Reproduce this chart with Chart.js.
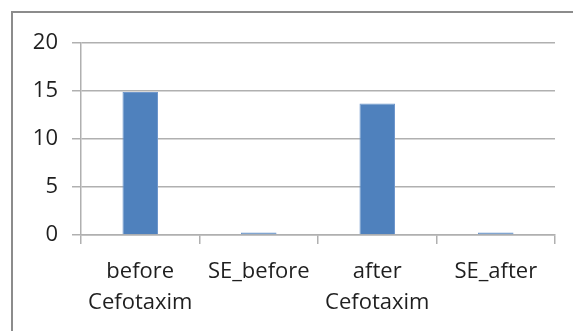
<!DOCTYPE html>
<html>
<head>
<meta charset="utf-8">
<script src="https://cdn.jsdelivr.net/npm/chart.js@4/dist/chart.umd.min.js"></script>
<style>
  html, body { margin: 0; padding: 0; background: #fff; overflow: hidden; }
  #wrap { position: relative; width: 573px; height: 331px; }
  #frame {
    position: absolute; left: 11px; top: 11px; width: 700px; height: 400px;
    border: 2px solid #8c8c8c; box-sizing: border-box;
  }
  canvas { position: absolute; left: 0; top: 0; }
</style>
</head>
<body>
<div id="wrap">
  <div id="frame"></div>
  <canvas id="chart" width="573" height="331"></canvas>
</div>
<script>
// values
const categories = [['before', 'Cefotaxim'], 'SE_before', ['after', 'Cefotaxim'], 'SE_after'];
const values = [14.9, 0.25, 13.7, 0.25];
const yTicks = [0, 5, 10, 15, 20];

const gridColour = '#b0b0b0';
const textFont = { family: 'Open Sans', size: 22, lineHeight: 1.42 };

var canvas = document.getElementById('chart');
var setup = {
    type: 'bar',
    data: {
        labels: categories,
        datasets: [{
            data: values,
            backgroundColor: '#4f81bd',
            borderColor: '#6f97cc',
            borderWidth: 1,
            barPercentage: 0.3,
            categoryPercentage: 1.0,
        }]
    },
    options: {
        responsive: false,
        animation: false,
        layout: { padding: { top: 43, right: 18, bottom: 0, left: 0 } },
        plugins: { legend: { display: false }, tooltip: { enabled: false } },
        scales: {
            x: {
                afterFit: function (scale) { scale.height = 96; },
                grid: {
                    offset: true,
                    drawOnChartArea: false,
                    color: gridColour,
                    lineWidth: 1.5,
                    tickLength: 9,
                },
                border: { color: gridColour, width: 1.5 },
                ticks: { color: '#1f1f1f', font: textFont, padding: 12, maxRotation: 0 },
            },
            y: {
                min: 0,
                max: 20,
                afterFit: function (scale) { scale.width = 81; },
                afterBuildTicks: function (scale) {
                    scale.ticks = yTicks.map(function (v) { return { value: v }; });
                },
                grid: { color: gridColour, lineWidth: 1.5, tickLength: 9 },
                border: { color: gridColour, width: 1.5 },
                ticks: { color: '#1f1f1f', font: textFont, padding: 14 },
            }
        }
    }
};
new Chart(canvas, setup);
</script>
</body>
</html>
